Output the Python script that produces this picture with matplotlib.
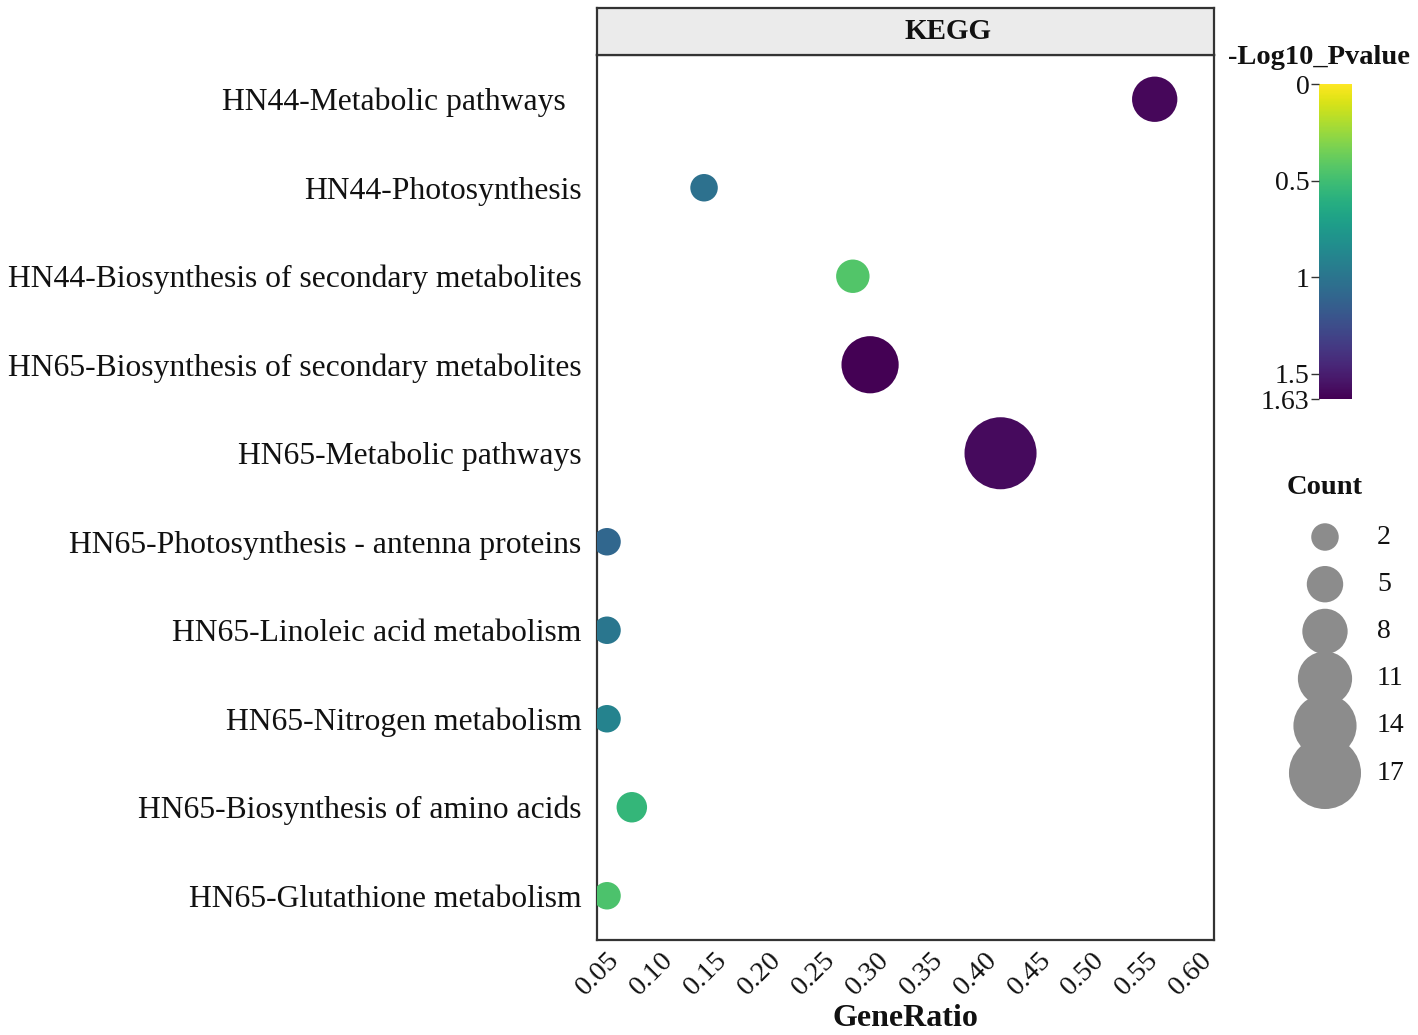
import matplotlib
matplotlib.use("Agg")
import matplotlib.pyplot as plt
import numpy as np
from matplotlib import cm, colors

plt.rcParams['font.family'] = ['Liberation Serif', 'DejaVu Serif']

terms = [
    "HN44-Metabolic pathways  ",
    "HN44-Photosynthesis",
    "HN44-Biosynthesis of secondary metabolites",
    "HN65-Biosynthesis of secondary metabolites",
    "HN65-Metabolic pathways",
    "HN65-Photosynthesis - antenna proteins",
    "HN65-Linoleic acid metabolism",
    "HN65-Nitrogen metabolism",
    "HN65-Biosynthesis of amino acids",
    "HN65-Glutathione metabolism",
]
gene_ratio = [0.558, 0.140, 0.278, 0.294, 0.415, 0.050, 0.050, 0.050, 0.073, 0.050]
counts = [8, 2, 4, 12, 17, 2, 2, 2, 3, 2]
neg_log10_p = [1.60, 1.03, 0.44, 1.63, 1.59, 1.09, 0.99, 0.90, 0.55, 0.46]

x_ticks = [0.05, 0.10, 0.15, 0.20, 0.25, 0.30, 0.35, 0.40, 0.45, 0.50, 0.55, 0.60]
cbar_ticks = [0, 0.5, 1, 1.5, 1.63]
cbar_ticklabels = ["0", "0.5", "1", "1.5", "1.63"]
legend_counts = [2, 5, 8, 11, 14, 17]

W, H, DPI = 1418, 1035, 100
fig = plt.figure(figsize=(W / DPI, H / DPI), dpi=DPI)
TXT = '#111111'


def size_of(c):
    d_px = 27.5 + (np.asarray(c, dtype=float) - 2) * 2.97
    return (d_px * 72.0 / DPI) ** 2


def fx(px):
    return px / W


def fy(py):
    return 1 - py / H


vmin, vmax = 0.0, 1.63
cmap = matplotlib.colormaps['viridis_r']
norm = colors.Normalize(vmin=vmin, vmax=vmax)

# main panel
ax = fig.add_axes([fx(597), fy(940), fx(1214) - fx(597), fy(55) - fy(940)])
ypos = np.arange(len(terms))
ax.scatter(gene_ratio, ypos, s=size_of(counts), c=neg_log10_p, cmap=cmap, norm=norm,
           edgecolors='none', zorder=3)
ax.set_ylim(len(terms) - 0.5, -0.5)
ax.set_xlim(0.0407, 0.613)
ax.set_yticks(ypos)
ax.set_yticklabels(terms, fontsize=22.8, color=TXT, va='center_baseline')
ax.set_xticks(x_ticks)
ax.set_xticklabels([f"{t:.2f}" for t in x_ticks], fontsize=20.5, rotation=45,
                   ha='right', va='top', rotation_mode='anchor', color=TXT)
ax.tick_params(axis='x', length=0, pad=5)
ax.tick_params(axis='y', length=0, pad=11)
for sp in ax.spines.values():
    sp.set_color('#333333')
    sp.set_linewidth(1.6)
fig.text(fx(905), fy(1018), "GeneRatio", ha='center', va='center', fontsize=23,
         fontweight='bold', color=TXT)

# strip
sax = fig.add_axes([fx(597), fy(55), fx(1214) - fx(597), fy(8) - fy(55)])
sax.set_facecolor('#ebebeb')
sax.set_xticks([])
sax.set_yticks([])
for sp in sax.spines.values():
    sp.set_color('#333333')
    sp.set_linewidth(1.6)
sax.text((948 - 597) / (1214 - 597), 0.5, "KEGG", ha='center', va='center', fontsize=21,
         fontweight='bold', transform=sax.transAxes, color=TXT)

# colorbar
cax = fig.add_axes([fx(1319), fy(399), fx(1352) - fx(1319), fy(84) - fy(399)])
sm = cm.ScalarMappable(norm=norm, cmap=cmap)
cb = fig.colorbar(sm, cax=cax, ticks=cbar_ticks)
cb.outline.set_visible(False)
cax.invert_yaxis()
cax.yaxis.set_ticks_position('left')
cax.yaxis.set_label_position('left')
cax.set_yticklabels(cbar_ticklabels, fontsize=20, color=TXT)
cax.tick_params(axis='y', length=6, width=1, color='#333333', pad=1)
fig.text(fx(1319), fy(58), "-Log10_Pvalue", ha='center', va='center', fontsize=20.5,
         fontweight='bold', color=TXT)

# size legend
lax = fig.add_axes([fx(1280), fy(796.6), fx(1418) - fx(1280), fy(513.4) - fy(796.6)])
lax.set_axis_off()
lax.set_xlim(0, 1)
lax.set_ylim(len(legend_counts) - 0.5, -0.5)
ly = np.arange(len(legend_counts))
lax.scatter(np.full(len(legend_counts), 0.326), ly, s=size_of(legend_counts),
            color='#8c8c8c', edgecolors='none', clip_on=False)
for yi, c in zip(ly, legend_counts):
    lax.text((1377 - 1280) / 138, yi, str(c), ha='left', va='center', fontsize=20, color=TXT)
fig.text(fx(1325), fy(488), "Count", ha='center', va='center', fontsize=20.5,
         fontweight='bold', color=TXT)

fig.savefig("out.png", dpi=DPI)
